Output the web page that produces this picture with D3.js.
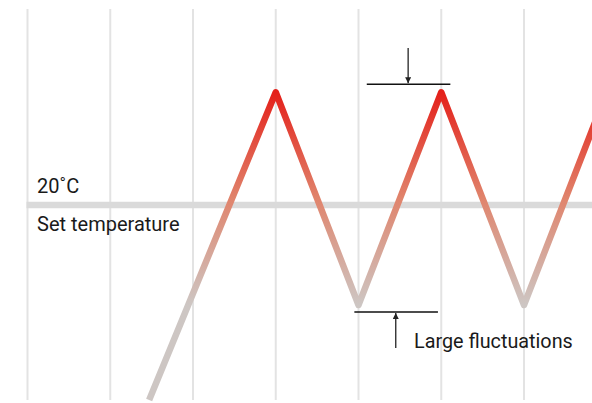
<!DOCTYPE html>
<html><head><meta charset="utf-8">
<script src="https://cdn.jsdelivr.net/npm/d3@7"></script>
<style>
html,body{margin:0;padding:0;background:#fff;}
svg{display:block;}
text{font-family:Roboto,"Noto Sans",sans-serif;fill:#1a1a1a;}
</style></head>
<body><svg id="chart" width="592" height="403"></svg>
<script>
// Data
const gridX = [0, 1, 2, 3, 4, 5, 6];
const setTemp = 20;
const timeVals = [1.47, 3, 4, 5, 6, 7];
const tempVals = [16.02, 22.3, 17.96, 22.3, 17.96, 22.3];
const setLabel = "20˚C";
const setText = "Set temperature";
const noteText = "Large fluctuations";

const svg = d3.select("#chart");
const x = d3.scaleLinear().domain([0, 6]).range([27.5, 524]);
const y = d3.scaleLinear().domain([16, 24]).range([401, 9]);

// vertical grid
svg.append("g").selectAll("line").data(gridX).join("line")
  .attr("x1", d => x(d)).attr("x2", d => x(d))
  .attr("y1", y(24)).attr("y2", y(16.02))
  .attr("stroke", "#e3e3e3").attr("stroke-width", 2);

// set temperature band
svg.append("line")
  .attr("x1", x(0) - 1).attr("x2", 592)
  .attr("y1", y(setTemp)).attr("y2", y(setTemp))
  .attr("stroke", "#dadada").attr("stroke-width", 6.5);

// gradient
const defs = svg.append("defs");
const grad = defs.append("linearGradient").attr("id", "g")
  .attr("gradientUnits", "userSpaceOnUse")
  .attr("x1", 0).attr("x2", 0)
  .attr("y1", y(22.3)).attr("y2", y(17.96));
grad.append("stop").attr("offset", 0).attr("stop-color", "#e4201a");
grad.append("stop").attr("offset", 0.5).attr("stop-color", "#e0846c");
grad.append("stop").attr("offset", 1).attr("stop-color", "#cdc6c3");

const pts = timeVals.map((t, i) => [t, tempVals[i]]);
const line = d3.line().x(d => x(d[0])).y(d => y(d[1]));
svg.append("path").attr("d", line(pts))
  .attr("fill", "none").attr("stroke", "url(#g)")
  .attr("stroke-width", 6.5).attr("stroke-linejoin", "round");

// arrow markers
defs.append("marker").attr("id", "ah").attr("viewBox", "0 0 10 10")
  .attr("refX", 10).attr("refY", 5).attr("markerWidth", 6).attr("markerHeight", 6)
  .attr("markerUnits", "userSpaceOnUse").attr("orient", "auto")
  .append("path").attr("d", "M0,0L10,5L0,10Z").attr("fill", "#222");

// top annotation
const peakY = y(22.3) - 8;
svg.append("line").attr("x1", x(4.1)).attr("x2", x(5.11))
  .attr("y1", peakY).attr("y2", peakY).attr("stroke", "#111").attr("stroke-width", 1.4);
svg.append("line").attr("x1", x(4.6)).attr("x2", x(4.6))
  .attr("y1", 48).attr("y2", peakY - 1)
  .attr("stroke", "#333").attr("stroke-width", 1.4).attr("marker-end", "url(#ah)");

// bottom annotation
const troughY = y(17.96) + 7;
svg.append("line").attr("x1", x(3.95)).attr("x2", x(4.96))
  .attr("y1", troughY).attr("y2", troughY).attr("stroke", "#111").attr("stroke-width", 1.4);
svg.append("line").attr("x1", x(4.45)).attr("x2", x(4.45))
  .attr("y1", 348).attr("y2", troughY + 1)
  .attr("stroke", "#333").attr("stroke-width", 1.4).attr("marker-end", "url(#ah)");

// texts
svg.append("text").attr("x", 37).attr("y", 193).attr("font-size", 20).text(setLabel);
svg.append("text").attr("x", 37).attr("y", 231).attr("font-size", 20).text(setText);
svg.append("text").attr("x", 414).attr("y", 348).attr("font-size", 19.8).text(noteText);
</script></body></html>
